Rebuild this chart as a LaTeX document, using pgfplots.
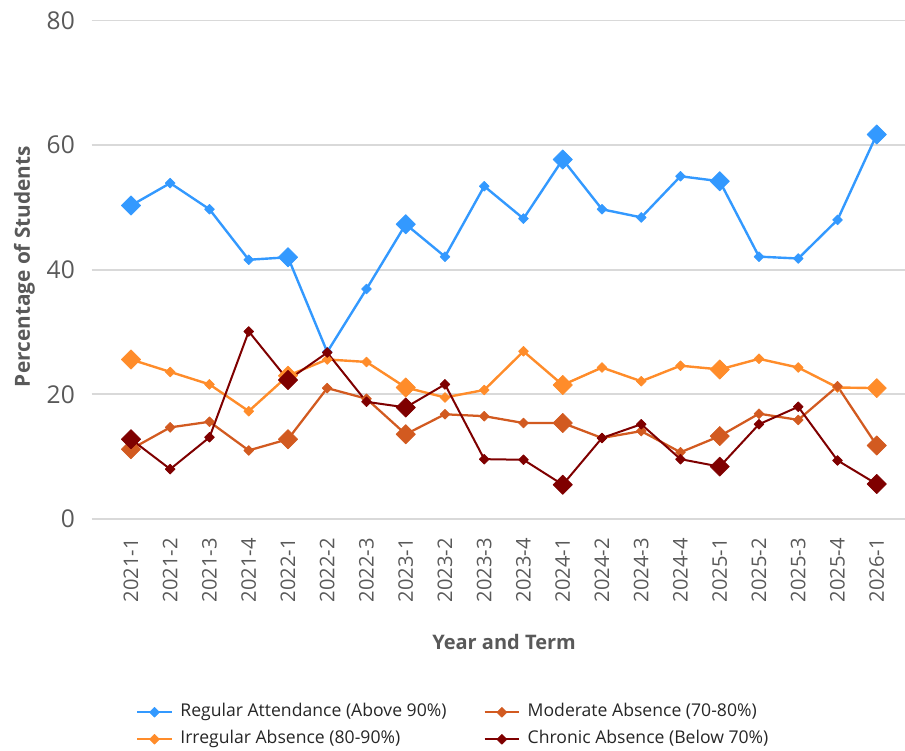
\documentclass[border=0pt]{standalone}
\usepackage{pgfplots}
\pgfplotsset{compat=1.18}
\usepackage{pgfplotstable}
\usepackage{fontspec}
\setmainfont{Open Sans}

\definecolor{regular}{HTML}{3399FF}
\definecolor{irregular}{HTML}{FF8C2A}
\definecolor{moderate}{HTML}{D25A20}
\definecolor{chronic}{HTML}{7F0000}
\definecolor{gridgray}{HTML}{D9D9D9}
\definecolor{labelgray}{HTML}{595959}
\definecolor{legendtext}{HTML}{262626}

% share of students per attendance band, by year and term
\pgfplotstableread{
idx Regular Irregular Moderate Chronic
0  50.3 25.6 11.2 12.8
1  53.9 23.6 14.7  8.0
2  49.7 21.6 15.6 13.1
3  41.6 17.3 11.0 30.1
4  42.0 23.0 12.8 22.3
5  26.8 25.6 21.0 26.7
6  36.9 25.2 19.3 18.8
7  47.3 21.1 13.6 17.9
8  42.1 19.5 16.8 21.6
9  53.4 20.7 16.5  9.6
10 48.2 26.9 15.4  9.5
11 57.7 21.5 15.4  5.5
12 49.7 24.3 13.0 13.0
13 48.4 22.1 14.1 15.2
14 55.0 24.6 10.7  9.6
15 54.2 24.0 13.3  8.4
16 42.1 25.7 16.9 15.2
17 41.8 24.3 15.9 18.0
18 48.0 21.1 21.3  9.4
19 61.7 21.0 11.8  5.6
}\datatable

\begin{document}
\begin{tikzpicture}
\useasboundingbox (-68.8pt,-174pt) rectangle (610pt,389.25pt);
\begin{axis}[
    at={(0,0)}, anchor=south west,
    scale only axis,
    width=610pt, height=373.9pt,
    xmin=-1, xmax=19.72,
    ymin=0, ymax=80,
    axis line style={draw=none},
    major tick length=0pt,
    ytick={0,20,40,60,80},
    ymajorgrids,
    grid style={gridgray, line width=1.4pt},
    xtick={0,...,19},
    xticklabels={2021-1,2021-2,2021-3,2021-4,2022-1,2022-2,2022-3,2023-1,2023-2,2023-3,2023-4,2024-1,2024-2,2024-3,2024-4,2025-1,2025-2,2025-3,2025-4,2026-1},
    xticklabel style={rotate=90, anchor=east, inner sep=0pt, text=labelgray, font=\fontsize{15.1pt}{18pt}\selectfont},
    xticklabel shift=14.25pt,
    yticklabel style={anchor=east, inner sep=0pt, text=labelgray, font=\fontsize{18.4pt}{22pt}\selectfont},
    yticklabel shift=12.5pt,
    /pgf/number format/assume math mode=true,
    xlabel={Year and Term},
    ylabel={Percentage of Students},
    xlabel style={at={([yshift=-92.6pt]axis description cs:0.507,0)}, anchor=center, font=\bfseries\fontsize{15pt}{18pt}\selectfont, text=labelgray},
    ylabel style={at={([xshift=-50.5pt]axis description cs:0,0.5065)}, anchor=center, font=\bfseries\fontsize{15.6pt}{18pt}\selectfont, text=labelgray},
    legend columns=2,
    transpose legend,
    legend cell align=left,
    legend style={at={([xshift=33pt,yshift=-138.1pt]axis description cs:0,0)}, anchor=north west,
        draw=none, fill=none, inner sep=0pt, row sep=6.85pt,
        font=\fontsize{13.2pt}{16pt}\selectfont, text=legendtext,
        nodes={inner sep=0pt, text height=10pt, text depth=3.4pt},
        /tikz/every odd column/.append style={column sep=5.5pt},
        /tikz/every even column/.append style={column sep=27.7pt}},
    legend image code/.code={\draw[mark repeat=2, mark phase=2] plot coordinates {(0pt,0pt) (13pt,0pt) (26pt,0pt)};},
    every axis plot/.append style={line join=round},
    clip=false,
]
% lines with small markers
\addplot[regular, line width=1.8pt, mark=square*, mark size=2.6pt, mark options={rotate=45, solid, line width=0.5pt}] table[x=idx, y=Regular] {\datatable};
\addlegendentry{Regular Attendance (Above 90\%)}
\addplot[irregular, line width=1.8pt, mark=square*, mark size=2.6pt, mark options={rotate=45, solid, line width=0.5pt}] table[x=idx, y=Irregular] {\datatable};
\addlegendentry{Irregular Absence (80-90\%)}
\addplot[moderate, line width=1.7pt, mark=square*, mark size=2.6pt, mark options={rotate=45, solid, line width=0.5pt}] table[x=idx, y=Moderate] {\datatable};
\addlegendentry{Moderate Absence (70-80\%)}
\addplot[chronic, line width=1.5pt, mark=square*, mark size=2.6pt, mark options={rotate=45, solid, line width=0.5pt}] table[x=idx, y=Chronic] {\datatable};
\addlegendentry{Chronic Absence (Below 70\%)}

% big markers on the first term of each year
\addplot[regular, only marks, forget plot, mark=square*, mark size=5.1pt, mark options={rotate=45, line width=0.5pt}, mark indices={1,5,8,12,16,20}] table[x=idx, y=Regular] {\datatable};
\addplot[irregular, only marks, forget plot, mark=square*, mark size=5.1pt, mark options={rotate=45, line width=0.5pt}, mark indices={1,5,8,12,16,20}] table[x=idx, y=Irregular] {\datatable};
\addplot[moderate, only marks, forget plot, mark=square*, mark size=5.1pt, mark options={rotate=45, line width=0.5pt}, mark indices={1,5,8,12,16,20}] table[x=idx, y=Moderate] {\datatable};
\addplot[chronic, only marks, forget plot, mark=square*, mark size=5.1pt, mark options={rotate=45, line width=0.5pt}, mark indices={1,5,8,12,16,20}] table[x=idx, y=Chronic] {\datatable};
\end{axis}
\end{tikzpicture}
\end{document}
